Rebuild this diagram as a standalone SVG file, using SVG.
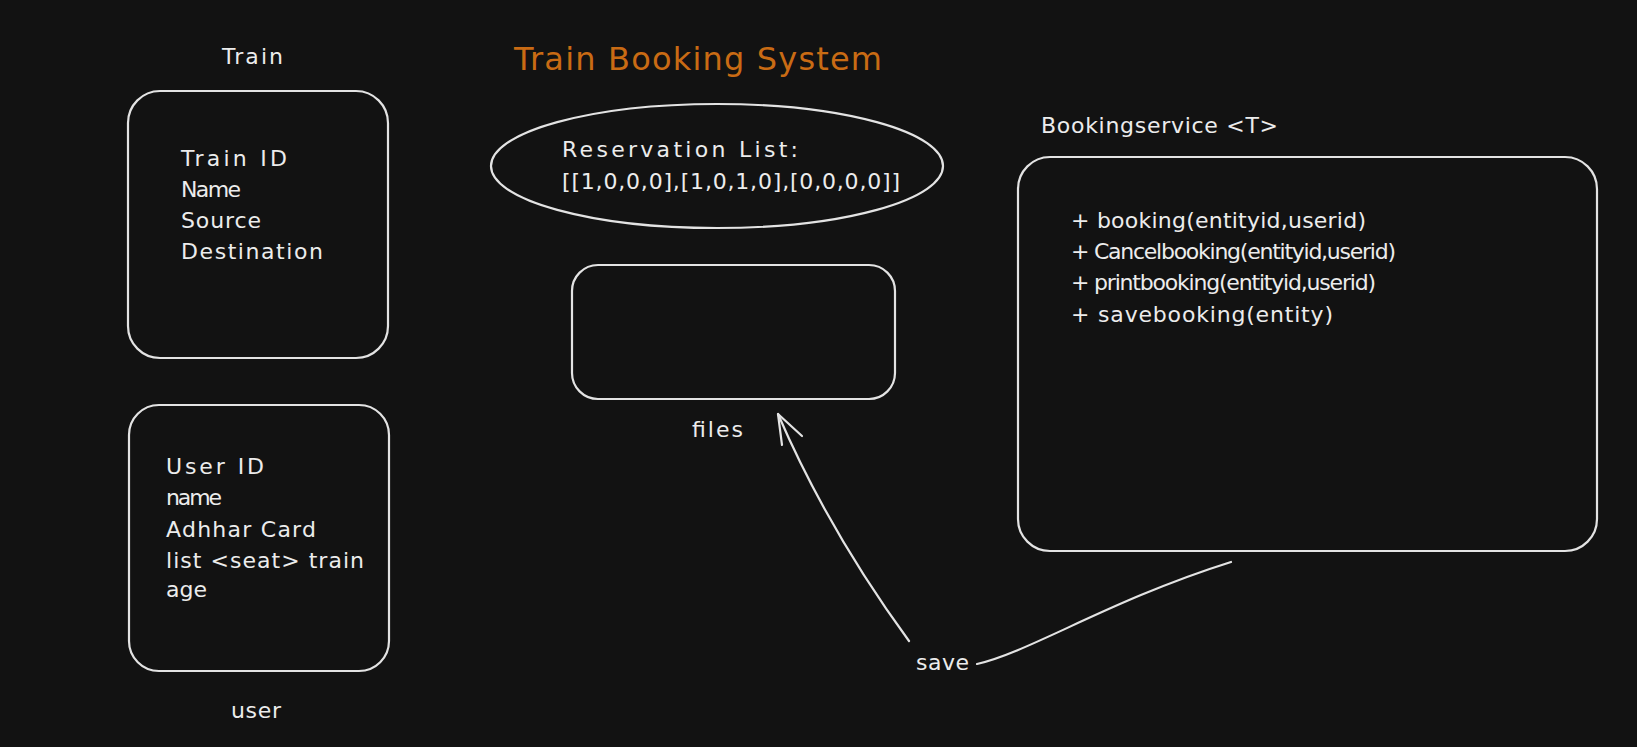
<svg xmlns="http://www.w3.org/2000/svg" width="1637" height="747" viewBox="0 0 1637 747">
<defs>
<style>
.bg{fill:#121212}
.box{fill:none;stroke:#e3e3e3;stroke-width:2.2;stroke-linecap:round;stroke-linejoin:round}
.t{font-family:"DejaVu Sans","Liberation Sans",sans-serif;font-size:22px;fill:#ececec}
.title{font-family:"DejaVu Sans","Liberation Sans",sans-serif;font-size:32px;fill:#c96b14}
.conn{fill:none;stroke:#e3e3e3;stroke-width:2.2;stroke-linecap:round;stroke-linejoin:round}
</style>
</defs>
<rect class="bg" x="0" y="0" width="1637" height="747"/>

<g id="title">
<text class="title" x="514" y="70" textLength="368" lengthAdjust="spacing">Train Booking System</text>
</g>

<g id="train">
<text class="t" x="222" y="64" textLength="61" lengthAdjust="spacing">Train</text>
<rect class="box" x="128" y="91" width="260" height="267" rx="32" ry="32"/>
<text class="t" x="181" y="166" textLength="106" lengthAdjust="spacing">Train ID</text>
<text class="t" x="181" y="197" textLength="60" lengthAdjust="spacing">Name</text>
<text class="t" x="181" y="228" textLength="80" lengthAdjust="spacing">Source</text>
<text class="t" x="181" y="259" textLength="142" lengthAdjust="spacing">Destination</text>
</g>

<g id="user">
<rect class="box" x="129" y="405" width="260" height="266" rx="30" ry="30"/>
<text class="t" x="166" y="474" textLength="98" lengthAdjust="spacing">User ID</text>
<text class="t" x="166" y="505" textLength="56" lengthAdjust="spacing">name</text>
<text class="t" x="166" y="537" textLength="150" lengthAdjust="spacing">Adhhar Card</text>
<text class="t" x="166" y="568" textLength="198" lengthAdjust="spacing">list &lt;seat&gt; train</text>
<text class="t" x="166" y="597" textLength="41" lengthAdjust="spacing">age</text>
<text class="t" x="231" y="718" textLength="50" lengthAdjust="spacing">user</text>
</g>

<g id="reservation">
<ellipse class="box" cx="717" cy="166" rx="226" ry="62"/>
<text class="t" x="562" y="157" textLength="236" lengthAdjust="spacing">Reservation List:</text>
<text class="t" x="562" y="189" textLength="338" lengthAdjust="spacing">[[1,0,0,0],[1,0,1,0],[0,0,0,0]]</text>
</g>

<g id="files">
<rect class="box" x="572" y="265" width="323" height="134" rx="26" ry="26"/>
<text class="t" x="692" y="437" textLength="51" lengthAdjust="spacing">files</text>
</g>

<g id="bookingservice">
<text class="t" x="1041" y="133" textLength="237" lengthAdjust="spacing">Bookingservice &lt;T&gt;</text>
<rect class="box" x="1018" y="157" width="579" height="394" rx="32" ry="32"/>
<text class="t" x="1071" y="228" textLength="295" lengthAdjust="spacing">+ booking(entityid,userid)</text>
<text class="t" x="1071" y="259" textLength="325" lengthAdjust="spacing">+ Cancelbooking(entityid,userid)</text>
<text class="t" x="1071" y="290" textLength="305" lengthAdjust="spacing">+ printbooking(entityid,userid)</text>
<text class="t" x="1071" y="322" textLength="262" lengthAdjust="spacing">+ savebooking(entity)</text>
</g>

<g id="save">
<text class="t" x="916" y="670" textLength="53" lengthAdjust="spacing">save</text>
</g>

<g id="connectors">
<path class="conn" d="M 909 641 Q 828 530 778 414"/>
<path class="conn" d="M 782 445 L 778 414 L 802 436"/>
<path class="conn" d="M 977 664 C 1030 652, 1110 600, 1231 562"/>
</g>
</svg>
